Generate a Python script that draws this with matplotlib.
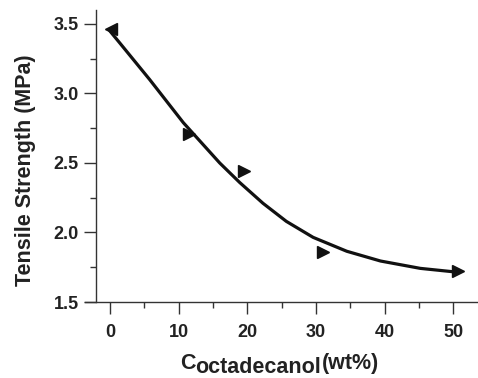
import numpy as np
import matplotlib
matplotlib.use("Agg")
import matplotlib.pyplot as plt
from matplotlib.ticker import MultipleLocator

# measured points (first one drawn with a left-pointing marker)
x_pts = [0.15, 11.5, 19.5, 31.0, 50.7]
y_pts = [3.46, 2.71, 2.44, 1.86, 1.72]
markers = ["<", ">", ">", ">", ">"]

# fitted curve
x_fit = [0, 1.5, 5.8, 10.7, 16.0, 18.9, 22.3, 25.7, 29.6, 34.5, 39.4, 45.2, 50.5]
y_fit = [3.45, 3.36, 3.10, 2.79, 2.50, 2.36, 2.21, 2.08, 1.965, 1.865, 1.795, 1.742, 1.715]

plt.rcParams["font.family"] = ["Liberation Sans", "DejaVu Sans"]

fig = plt.figure(figsize=(4.78, 3.78), dpi=100)
ax = fig.add_axes([0.178, 0.201, 0.822, 0.7725])

ax.plot(x_fit, y_fit, color="#111111", linewidth=2.3,
        solid_capstyle="round", solid_joinstyle="round")
for xp, yp, m in zip(x_pts, y_pts, markers):
    ax.plot(xp, yp, marker=m, markersize=9, color="#111111", linestyle="none")

ax.set_xlim(-3.6, 53.6)
ax.set_ylim(1.5, 3.6)

ax.spines["top"].set_visible(False)
ax.spines["right"].set_visible(False)
ax.spines["left"].set_position(("data", -2))
for s in ("left", "bottom"):
    ax.spines[s].set_linewidth(1.0)
    ax.spines[s].set_color("#333333")

ax.xaxis.set_major_locator(MultipleLocator(10))
ax.xaxis.set_minor_locator(MultipleLocator(5))
ax.yaxis.set_minor_locator(MultipleLocator(0.25))
ax.set_yticks([1.5, 2.0, 2.5, 3.0, 3.5])
ax.set_yticklabels(["1.5", "2.0", "2.5", "3.0", "3.5"])

ax.tick_params(axis="both", which="major", length=8.5, width=1.0, color="#333333",
               labelsize=13)
ax.tick_params(axis="both", which="minor", length=4.5, width=1.0, color="#333333")
ax.tick_params(axis="x", which="major", pad=7)
ax.tick_params(axis="y", which="major", pad=4)
for lab in ax.get_xticklabels() + ax.get_yticklabels():
    lab.set_fontweight("bold")
    lab.set_color("#222222")

# y label placed by hand, a bit below the axes centre as in the reference
fig.text(26 / 478, 1 - 170.5 / 378, "Tensile Strength (MPa)", fontsize=15.5,
         fontweight="bold", color="#222222", rotation=90, ha="center", va="center")

# x label: C with lowered "octadecanol" and normal "(wt%)"
t1 = fig.text(180 / 478, 9 / 378, "C", fontsize=15.5, fontweight="bold",
              color="#222222", ha="left", va="baseline")
t2 = ax.annotate("octadecanol", xy=(1, 0), xycoords=t1, xytext=(0, -3),
                 textcoords="offset points", fontsize=15.5, fontweight="bold",
                 color="#222222", ha="left", va="bottom", annotation_clip=False)
t3 = ax.annotate("(wt%)", xy=(1, 0), xycoords=t2, xytext=(0.5, 3),
                 textcoords="offset points", fontsize=15.5, fontweight="bold",
                 color="#222222", ha="left", va="bottom", annotation_clip=False)

fig.savefig("out.png", dpi=100)
